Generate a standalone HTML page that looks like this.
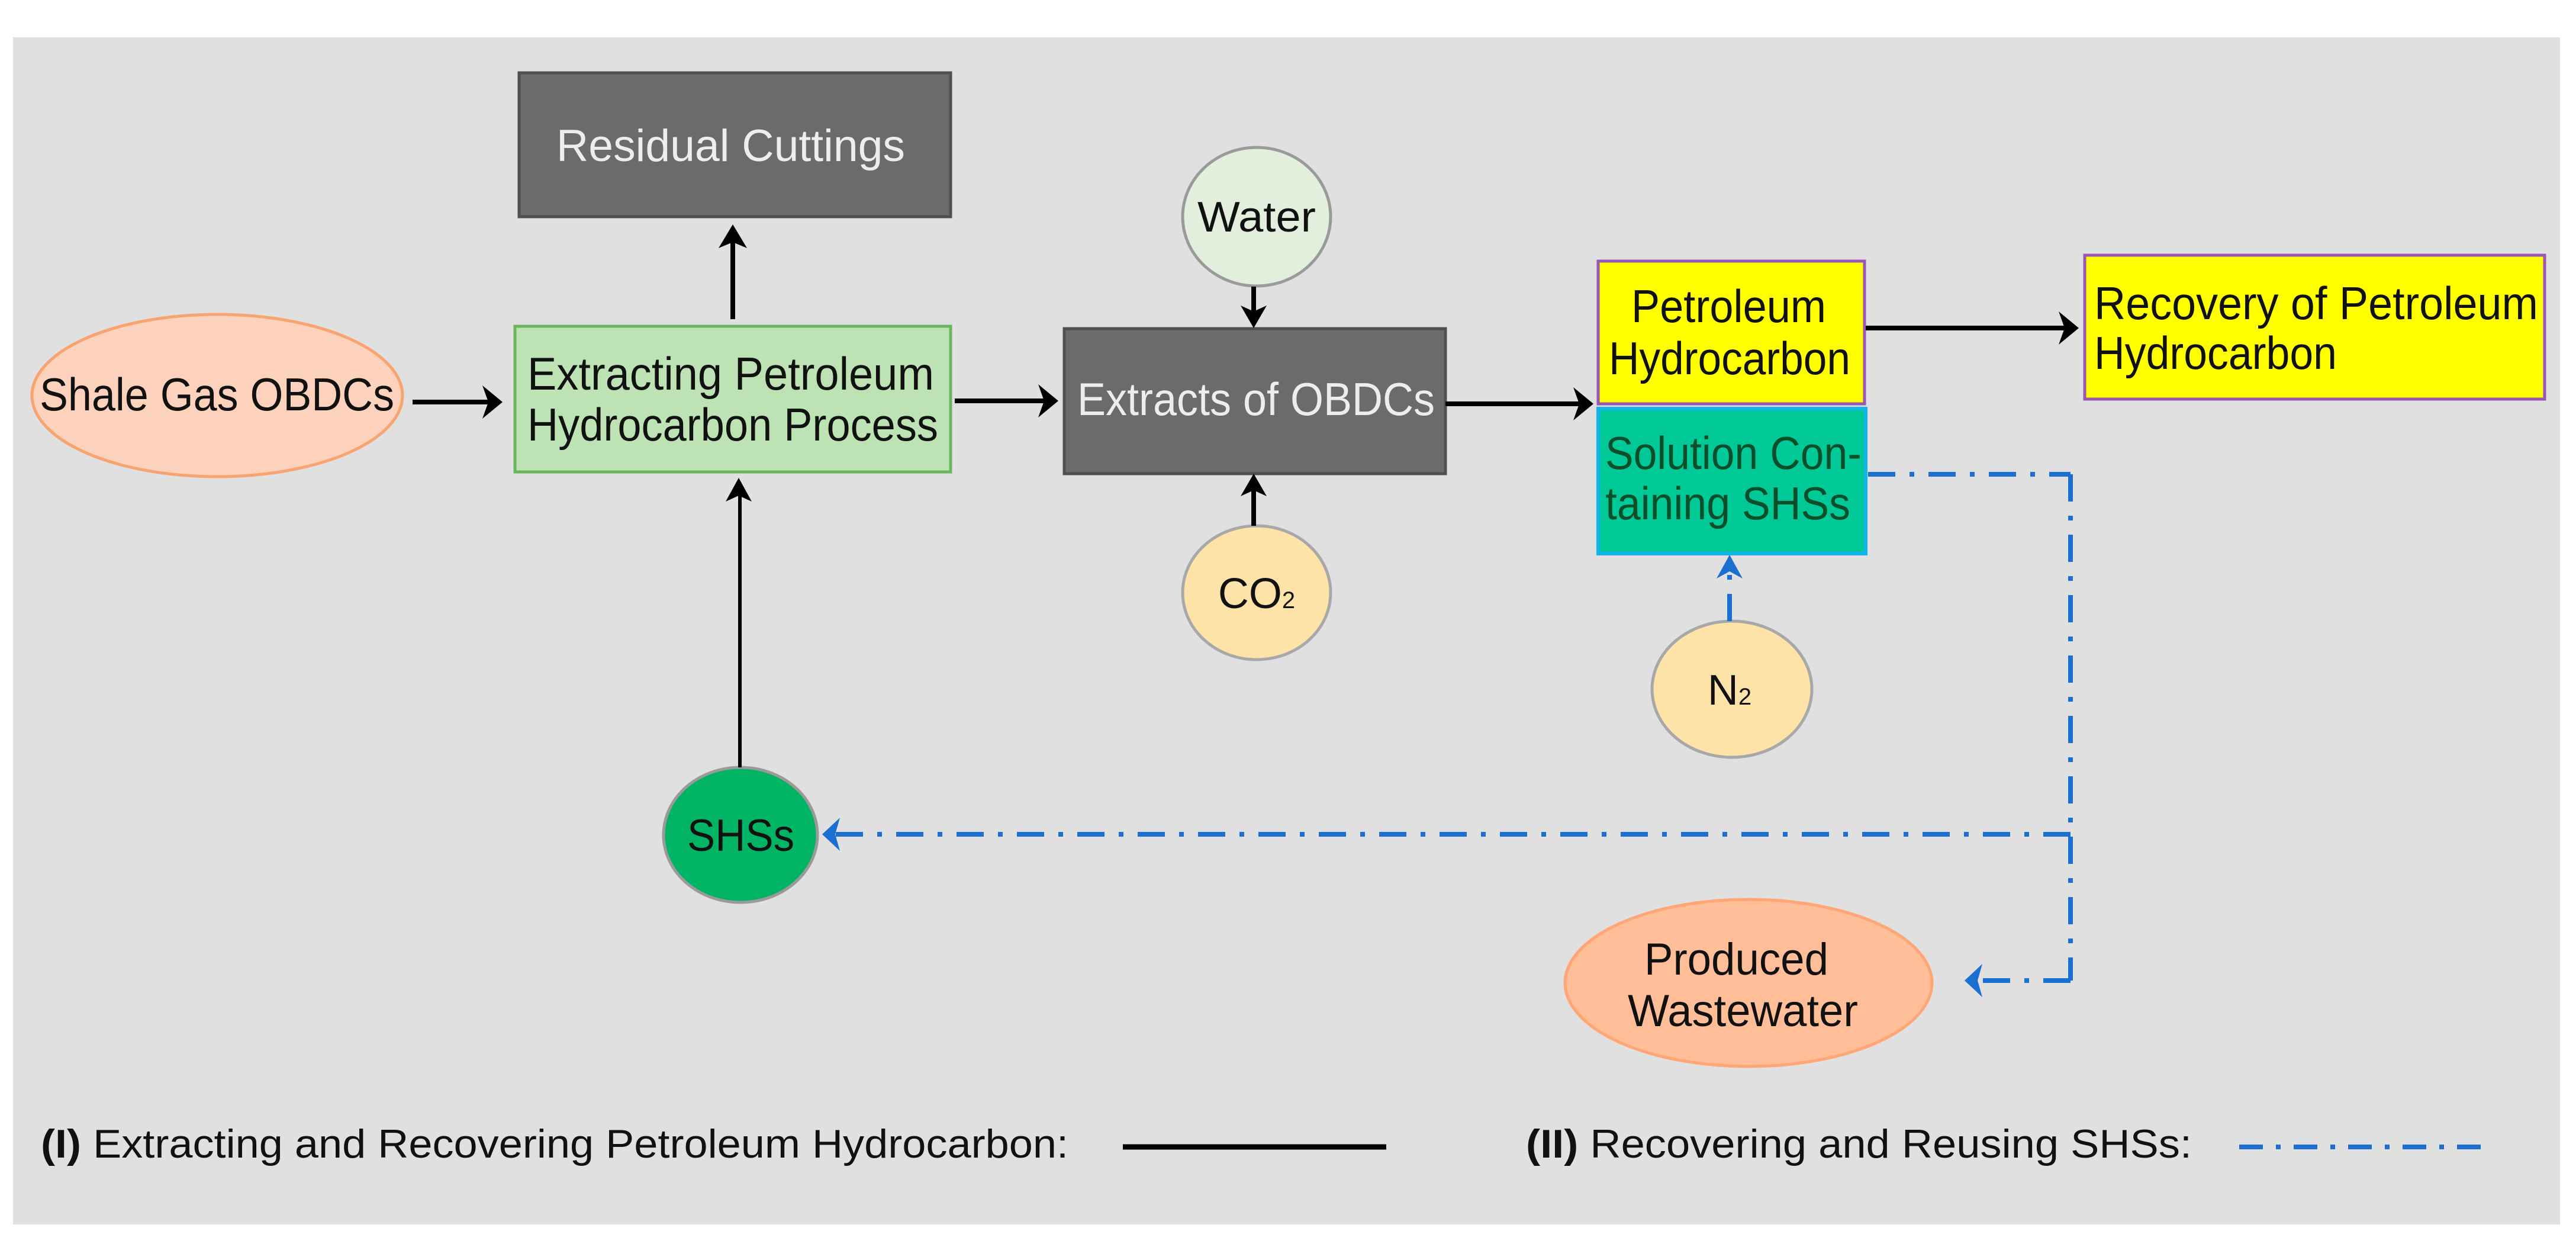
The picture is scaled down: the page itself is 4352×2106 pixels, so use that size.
<!DOCTYPE html>
<html><head><meta charset="utf-8"><style>
html,body{margin:0;padding:0;background:#fff;}
svg{display:block;}
text{font-family:"Liberation Sans",Arial,sans-serif;}
</style></head><body>
<svg width="4352" height="2106" viewBox="0 0 4352 2106" xmlns="http://www.w3.org/2000/svg">
<rect x="0" y="0" width="4352" height="2106" fill="#ffffff"/>
<rect x="22" y="63" width="4303" height="2005" fill="#e0e0e0"/>

<!-- Residual Cuttings -->
<rect x="877" y="123" width="729" height="243" fill="#6b6b6b" stroke="#4f4f4f" stroke-width="5"/>
<text x="940" y="272" font-size="76" fill="#ededed" textLength="589" lengthAdjust="spacingAndGlyphs">Residual  Cuttings</text>

<!-- Shale Gas OBDCs -->
<ellipse cx="367" cy="668" rx="313" ry="137" fill="#fdd2bc" stroke="#f9a370" stroke-width="5"/>
<text x="67" y="693" font-size="78" fill="#111" textLength="599" lengthAdjust="spacingAndGlyphs">Shale Gas OBDCs</text>

<!-- Extracting box -->
<rect x="870" y="551" width="736" height="246" fill="#bde3b5" stroke="#6ab65d" stroke-width="5"/>
<text x="891" y="658" font-size="78" fill="#111" textLength="687" lengthAdjust="spacingAndGlyphs">Extracting  Petroleum</text>
<text x="891" y="744" font-size="78" fill="#111" textLength="694" lengthAdjust="spacingAndGlyphs">Hydrocarbon Process</text>

<!-- Water -->
<ellipse cx="2123" cy="366" rx="125" ry="117" fill="#e1efdc" stroke="#9a9a9a" stroke-width="5"/>
<text x="2123" y="391" font-size="72" fill="#111" text-anchor="middle" textLength="200" lengthAdjust="spacingAndGlyphs">Water</text>

<!-- Extracts of OBDCs -->
<rect x="1798" y="555" width="644" height="245" fill="#6b6b6b" stroke="#4f4f4f" stroke-width="5"/>
<text x="1820" y="701" font-size="78" fill="#ededed" textLength="604" lengthAdjust="spacingAndGlyphs">Extracts of OBDCs</text>

<!-- CO2 -->
<ellipse cx="2123" cy="1001" rx="125" ry="113" fill="#fde3a7" stroke="#a8a8a8" stroke-width="5"/>
<text x="2123" y="1027" font-size="72" fill="#111" text-anchor="middle">CO<tspan font-size="40">2</tspan></text>

<!-- Petroleum Hydrocarbon -->
<rect x="2700" y="441" width="450" height="241" fill="#ffff00" stroke="#9a55b5" stroke-width="5"/>
<text x="2756" y="544" font-size="78" fill="#111" textLength="329" lengthAdjust="spacingAndGlyphs">Petroleum</text>
<text x="2718" y="632" font-size="78" fill="#111" textLength="408" lengthAdjust="spacingAndGlyphs">Hydrocarbon</text>

<!-- Solution -->
<rect x="2700" y="690" width="452" height="245" fill="#00c896" stroke="#12b4ee" stroke-width="6"/>
<text x="2712" y="792" font-size="78" fill="#0b4f2a" textLength="433" lengthAdjust="spacingAndGlyphs">Solution Con-</text>
<text x="2712" y="877" font-size="78" fill="#0b4f2a" textLength="414" lengthAdjust="spacingAndGlyphs">taining SHSs</text>

<!-- Recovery -->
<rect x="3522" y="431" width="777" height="243" fill="#ffff00" stroke="#9a55b5" stroke-width="5"/>
<text x="3538" y="539" font-size="78" fill="#111" textLength="750" lengthAdjust="spacingAndGlyphs">Recovery of Petroleum</text>
<text x="3538" y="623" font-size="78" fill="#111" textLength="410" lengthAdjust="spacingAndGlyphs">Hydrocarbon</text>

<!-- N2 -->
<ellipse cx="2926" cy="1164" rx="135" ry="115" fill="#fde3a7" stroke="#a8a8a8" stroke-width="5"/>
<text x="2922" y="1190" font-size="72" fill="#111" text-anchor="middle">N<tspan font-size="40">2</tspan></text>

<!-- SHSs -->
<ellipse cx="1251" cy="1410" rx="130" ry="114" fill="#00b464" stroke="#9a9a9a" stroke-width="5"/>
<text x="1161" y="1437" font-size="76" fill="#111" textLength="181" lengthAdjust="spacingAndGlyphs">SHSs</text>

<!-- Produced Wastewater -->
<ellipse cx="2954" cy="1660" rx="310" ry="141" fill="#ffbe98" stroke="#ffa674" stroke-width="5"/>
<text x="2778" y="1646" font-size="76" fill="#111" textLength="311" lengthAdjust="spacingAndGlyphs">Produced</text>
<text x="2750" y="1733" font-size="76" fill="#111" textLength="389" lengthAdjust="spacingAndGlyphs">Wastewater</text>

<!-- Black connectors -->
<g stroke="#000" stroke-width="8" fill="none">
<line x1="697" y1="679" x2="840" y2="679"/>
<line x1="1238" y1="539" x2="1238" y2="390"/>
<line x1="1613" y1="677" x2="1778" y2="677"/>
<line x1="2118" y1="484" x2="2118" y2="545"/>
<line x1="2118" y1="888" x2="2118" y2="810"/>
<line x1="2442" y1="682" x2="2682" y2="682"/>
<line x1="3152" y1="554" x2="3500" y2="554"/>
<line x1="1250" y1="1296" x2="1250" y2="818" stroke-width="6"/>
</g>
<g fill="#000">
<path d="M849,679 l-34,-28 l10,28 l-10,28 z"/>
<path d="M1238,379 l-24,40 l24,-10 l24,10 z"/>
<path d="M1788,677 l-34,-28 l10,28 l-10,28 z"/>
<path d="M2118,554 l-22,-38 l22,10 l22,-10 z"/>
<path d="M2118,800 l-22,38 l22,-10 l22,10 z"/>
<path d="M2692,682 l-34,-28 l10,28 l-10,28 z"/>
<path d="M3512,554 l-34,-28 l10,28 l-10,28 z"/>
<path d="M1248,807 l-22,40 l22,-10 l22,10 z"/>
</g>

<!-- Blue dash-dot connectors -->
<g stroke="#1a6fd0" stroke-width="8" fill="none" stroke-dasharray="46,24,8,24">
<line x1="3156" y1="801" x2="3498" y2="801"/>
<line x1="3498" y1="801" x2="3498" y2="1656"/>
<line x1="3498" y1="1409" x2="1400" y2="1409"/>
<line x1="3498" y1="1656" x2="3330" y2="1656"/>
<line x1="2922" y1="1049" x2="2922" y2="950"/>
</g>
<g fill="#1a6fd0">
<path d="M1389,1409 l30,-28 l-8,28 l8,28 z"/>
<path d="M3319,1656 l30,-28 l-8,28 l8,28 z"/>
<path d="M2922,937 l-22,40 l22,-12 l22,12 z"/>
</g>

<!-- Legend -->
<text x="69" y="1955" font-size="68" fill="#111" textLength="1736" lengthAdjust="spacingAndGlyphs"><tspan font-weight="bold">(I)</tspan> Extracting and Recovering Petroleum Hydrocarbon:</text>
<line x1="1897" y1="1937" x2="2342" y2="1937" stroke="#000" stroke-width="9"/>
<text x="2578" y="1955" font-size="68" fill="#111" textLength="1125" lengthAdjust="spacingAndGlyphs"><tspan font-weight="bold">(II)</tspan> Recovering and Reusing SHSs:</text>
<line x1="3783" y1="1937" x2="4208" y2="1937" stroke="#1a6fd0" stroke-width="8" stroke-dasharray="40,22,8,22"/>
</svg>
</body></html>
